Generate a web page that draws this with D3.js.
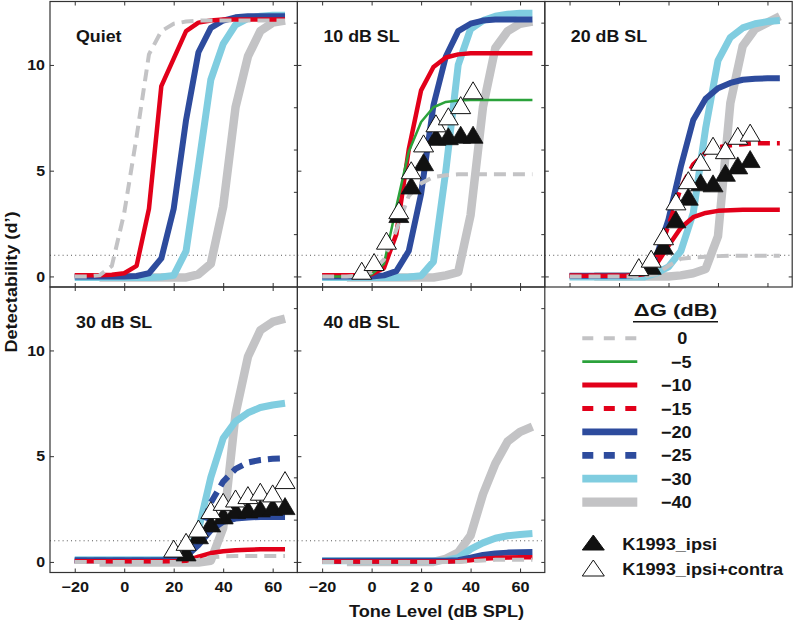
<!DOCTYPE html>
<html><head><meta charset="utf-8">
<script src="https://cdn.jsdelivr.net/npm/d3@7"></script>
<style>
body{margin:0;background:#fff}
svg{display:block}
text{font-family:"Liberation Sans",Arial,Helvetica,sans-serif;font-weight:bold;fill:#151515}
</style>
</head><body>
<svg id="c" width="794" height="624"></svg>
<script>
// ---------- data ----------
const levels   = [-20,-15,-10,-5,0,5,10,15,20,25,30,35,40,45,50,55,60,65];
const levels40 = [-10,-5,0,5,10,15,20,25,30,35,40,45,50,55,60,65];
const xTicks = [-20,0,20,40,60];
const xTickLabelsP4 = ["−20","0","20","40","60"];
const xTickLabelsP5 = ["−20","0","2 0","40","60"];
const yTicks = [0,5,10];
const yTickLabels = ["0","5","10"];
const yRightTicks = [0,2,4,6,8,10,12];
const panelTitles = ["Quiet","10 dB SL","20 dB SL","30 dB SL","40 dB SL"];
const gainKeys = ["0","-5","-10","-15","-20","-25","-30","-40"];
const gainLabels = ["0","−5","−10","−15","−20","−25","−30","−40"];
const markerLabels = ["K1993_ipsi","K1993_ipsi+contra"];
const dprimeCriterion = [1];

// Quiet
const quiet_0   = [0,0,0.05,0.5,3.0,6.6,10.5,11.6,11.95,12.05,12.1,12.1,12.1,12.1,12.1,12.1,12.1,12.1];
const quiet_m10 = [0.05,0.05,0.06,0.08,0.15,0.5,3.2,9.0,10.3,11.6,12.0,12.1,12.15,12.15,12.15,12.15,12.15,12.15];
const quiet_m20 = [0,0,0,0,0,0.02,0.15,0.85,3.2,7.4,10.6,11.75,12.1,12.25,12.3,12.3,12.3,12.3];
const quiet_m30 = [-0.05,-0.05,-0.05,-0.05,-0.05,-0.05,-0.05,-0.03,0.05,1.2,5.2,9.3,11.0,11.9,12.2,12.3,12.35,12.35];
const quiet_m40 = [-0.05,-0.05,-0.05,-0.05,-0.05,-0.05,-0.05,-0.05,0.1,0.6,3.3,8.0,10.4,11.6,12.0,12.1];

// 10 dB SL
const p10_0   = [0,0,0,0.05,0.2,0.8,2.2,3.8,4.4,4.7,4.78,4.83,4.83,4.83,4.83,4.83,4.83,4.83];
const p10_m5  = [0,0,0,0,0.1,0.6,3.3,5.9,7.3,8.0,8.25,8.32,8.34,8.34,8.34,8.34,8.34,8.34];
const p10_m10 = [0.05,0.05,0.05,0.05,0.1,0.4,2.0,6.0,8.8,9.9,10.35,10.5,10.55,10.55,10.55,10.55,10.55,10.55];
const p10_m20 = [0,0,0,0,0,0.05,0.25,1.2,3.9,8.1,10.4,11.6,11.95,12.1,12.15,12.15,12.15,12.15];
const p10_m30 = [-0.05,-0.05,-0.05,-0.05,-0.05,-0.05,-0.05,-0.03,0.03,0.7,5.0,10.0,11.7,12.1,12.3,12.4,12.45,12.45];
const p10_m40 = [-0.05,-0.05,-0.05,-0.05,-0.05,-0.05,-0.05,-0.05,0.05,0.2,2.9,8.0,10.8,11.6,11.95,12.05];
const p10_ipsi_x = [11,16,21,26,31,36,41];
const p10_ipsi_y = [2.95,4.3,5.4,6.6,6.63,6.7,6.7];
const p10_both_x = [-4,1,6,11,16,21,26,31,36,41];
const p10_both_y = [0.27,0.68,1.69,3.13,5.02,6.29,7.24,7.57,8.1,8.8];

// 20 dB SL
const p20_0   = [0,0,0,0,0,0,0,0.1,0.5,0.84,0.9,0.93,0.96,0.98,0.98,0.98,0.98,0.98];
const p20_m10 = [0.03,0.03,0.03,0.03,0.03,0.03,0.1,0.55,1.45,2.3,2.8,3.0,3.1,3.13,3.15,3.15,3.15,3.15];
const p20_m15 = [0.03,0.03,0.03,0.03,0.03,0.03,0.15,0.8,2.4,4.2,5.3,5.85,6.1,6.2,6.25,6.3,6.3,6.3];
const p20_m20 = [0.03,0.03,0.03,0.03,0.03,0.03,0.25,0.9,2.7,5.2,7.4,8.4,8.9,9.15,9.3,9.35,9.37,9.37];
const p20_m30 = [-0.03,-0.03,-0.03,-0.03,-0.03,-0.03,-0.03,0.15,0.45,1.2,3.0,7.0,10.2,11.3,11.75,11.95,12.05,12.1];
const p20_m40 = [0,0,0,0,0,0,0,0.05,0.15,0.35,1.9,8.2,10.9,11.7,12.0,12.3];
const p20_ipsi_x = [13,18,23,28,33,38,43,48,53];
const p20_ipsi_y = [0.5,1.45,2.7,3.77,4.45,4.4,4.9,5.25,5.55];
const p20_both_x = [8,13,18,23,28,33,38,43,48,53];
const p20_both_y = [0.44,0.84,1.9,3.55,4.55,5.42,6.18,5.97,6.65,6.8];

// 30 dB SL
const p30_0   = [0,0,0,0,0,0,0,0,0,0,0.1,0.22,0.26,0.28,0.28,0.28,0.28,0.28];
const p30_m10 = [0.03,0.03,0.03,0.03,0.03,0.03,0.03,0.03,0.03,0.05,0.25,0.42,0.5,0.55,0.58,0.6,0.6,0.6];
const p30_m20 = [0.08,0.08,0.08,0.08,0.08,0.08,0.08,0.08,0.1,0.25,0.8,1.5,1.9,2.05,2.1,2.13,2.13,2.13];
const p30_m25 = [0.05,0.05,0.05,0.05,0.05,0.05,0.05,0.05,0.1,0.35,1.1,2.8,3.8,4.4,4.7,4.82,4.88,4.9];
const p30_m30 = [0.1,0.1,0.1,0.1,0.1,0.1,0.1,0.1,0.12,0.3,1.5,4.0,5.85,6.65,7.05,7.3,7.42,7.5];
const p30_m40 = [-0.03,-0.03,-0.03,-0.03,-0.03,-0.03,-0.03,-0.03,-0.03,0.05,1.6,7.0,9.7,10.95,11.35,11.5];
const p30_ipsi_x = [25,30,35,40,45,50,55,60,65];
const p30_ipsi_y = [0.45,1.26,1.82,2.2,2.45,2.48,2.53,2.6,2.64];
const p30_both_x = [20,25,30,35,40,45,50,55,60,65];
const p30_both_y = [0.63,0.95,1.58,2.45,2.84,3.0,3.16,3.32,3.24,3.87];

// 40 dB SL
const p40_0   = [0,0,0,0,0,0,0,0,0,0,0,0,0.03,0.07,0.1,0.1,0.1,0.1];
const p40_m10 = [0.02,0.02,0.02,0.02,0.02,0.02,0.02,0.02,0.02,0.02,0.02,0.03,0.08,0.15,0.19,0.21,0.22,0.22];
const p40_m20 = [0.05,0.05,0.05,0.05,0.05,0.05,0.05,0.05,0.05,0.05,0.05,0.08,0.2,0.33,0.4,0.44,0.46,0.47];
const p40_m30 = [0.05,0.05,0.05,0.05,0.05,0.05,0.05,0.05,0.05,0.05,0.07,0.2,0.6,0.9,1.12,1.24,1.3,1.34];
const p40_m40 = [0,0,0,0,0,0,0,0,0.15,0.45,1.25,3.2,4.65,5.7,6.15,6.4];

// ---------- tables built from the arrays ----------
const panelCurves = [
  {"0":quiet_0,"-10":quiet_m10,"-20":quiet_m20,"-30":quiet_m30,"-40":quiet_m40},
  {"0":p10_0,"-5":p10_m5,"-10":p10_m10,"-20":p10_m20,"-30":p10_m30,"-40":p10_m40},
  {"0":p20_0,"-10":p20_m10,"-15":p20_m15,"-20":p20_m20,"-30":p20_m30,"-40":p20_m40},
  {"0":p30_0,"-10":p30_m10,"-20":p30_m20,"-25":p30_m25,"-30":p30_m30,"-40":p30_m40},
  {"0":p40_0,"-10":p40_m10,"-20":p40_m20,"-30":p40_m30,"-40":p40_m40}
];
const panelIpsi = [null,[p10_ipsi_x,p10_ipsi_y],[p20_ipsi_x,p20_ipsi_y],[p30_ipsi_x,p30_ipsi_y],null];
const panelBoth = [null,[p10_both_x,p10_both_y],[p20_both_x,p20_both_y],[p30_both_x,p30_both_y],null];

// ---------- styles ----------
const GRAY="#c3c3c5", RED="#e2001a", BLUE="#2d4b9d", CYAN="#80cde0", GREEN="#2ba23b";
const style = {
  "0":  {c:GRAY, w:4,   lw:4,   dash:"12,7", ldash:"11,10.5"},
  "-5": {c:GREEN,w:2.5, lw:2.7},
  "-10":{c:RED,  w:4.5, lw:5},
  "-15":{c:RED,  w:4.5, lw:5,   dash:"12,7", ldash:"11,10.5"},
  "-20":{c:BLUE, w:6,   lw:6.7},
  "-25":{c:BLUE, w:6,   lw:6.7, dash:"12,7", ldash:"11,10.5"},
  "-30":{c:CYAN, w:7,   lw:7.7},
  "-40":{c:GRAY, w:8.5, lw:9.3}
};
const drawOrder = ["-40","-30","-25","-20","-15","-10","-5","0"];

const svg = d3.select("#c");
const PW = 247.4;
const lefts = [50, 297.4, 544.8, 50, 297.4];
const rowRange = [[287, 1.5], [572.5, 287]];
const tri = (w,h) => `M0,${-h/2}L${w/2},${h/2}L${-w/2},${h/2}Z`;

function stretch(sel, f){
  sel.each(function(){
    const w = this.getComputedTextLength();
    if (w>0) d3.select(this).attr("textLength", w*f).attr("lengthAdjust","spacingAndGlyphs");
  });
}

panelTitles.forEach((title, i) => {
  const row = i < 3 ? 0 : 1, col = i % 3;
  const L = lefts[i];
  const x = d3.scaleLinear().domain([-30,70]).range([L, L+PW]);
  const y = d3.scaleLinear().domain([-0.5,13]).range(rowRange[row]);
  const g = svg.append("g");

  // criterion line d' = 1
  g.selectAll("line.crit").data(dprimeCriterion).join("line")
    .attr("x1", x(-30)).attr("x2", x(70)).attr("y1", d=>y(d)).attr("y2", d=>y(d))
    .attr("stroke","#444").attr("stroke-width",0.9).attr("stroke-dasharray","1,3.2");

  // curves
  const curves = panelCurves[i];
  drawOrder.forEach(k => {
    if (!curves[k]) return;
    const xs = k === "-40" ? levels40 : levels;
    const pts = curves[k].map((v,j) => [xs[j], v]);
    const s = style[k];
    g.append("path")
      .attr("d", d3.line().x(d=>x(d[0])).y(d=>y(d[1]))(pts))
      .attr("fill","none").attr("stroke", s.c).attr("stroke-width", s.w)
      .attr("stroke-linejoin","round")
      .attr("stroke-dasharray", s.dash || null);
  });

  // markers
  if (panelIpsi[i]) {
    const [xs, ys] = panelIpsi[i];
    g.selectAll("path.ipsi").data(xs.map((v,j)=>[v, ys[j]])).join("path")
      .attr("transform", d=>`translate(${x(d[0])},${y(d[1])})`)
      .attr("d", tri(20,17)).attr("fill","#111").attr("stroke","#111").attr("stroke-width",0.8);
  }
  if (panelBoth[i]) {
    const [xs, ys] = panelBoth[i];
    g.selectAll("path.both").data(xs.map((v,j)=>[v, ys[j]])).join("path")
      .attr("transform", d=>`translate(${x(d[0])},${y(d[1])})`)
      .attr("d", tri(20,17)).attr("fill","#fff").attr("stroke","#111").attr("stroke-width",1);
  }

  // frame
  g.append("rect").attr("x", L).attr("y", rowRange[row][1])
    .attr("width", PW).attr("height", rowRange[row][0]-rowRange[row][1])
    .attr("fill","none").attr("stroke","#333").attr("stroke-width",1.2);

  // axes (ticks inside)
  const tickStyle = a => { a.select(".domain").remove(); a.selectAll(".tick line").attr("stroke","#333").attr("stroke-width",1); };
  const xLabels = i === 3 ? xTickLabelsP4 : (i === 4 ? xTickLabelsP5 : null);
  const bottom = g.append("g").attr("transform", `translate(0,${rowRange[row][0]})`)
    .call(d3.axisBottom(x).tickValues(xTicks).tickSizeInner(-4).tickSizeOuter(0).tickPadding(9)
      .tickFormat((d,j)=> xLabels ? xLabels[j] : ""));
  tickStyle(bottom);
  bottom.selectAll("text").attr("font-size",14.5).attr("fill","#151515");
  const top = g.append("g").attr("transform", `translate(0,${rowRange[row][1]})`)
    .call(d3.axisTop(x).tickValues(xTicks).tickSizeInner(-4).tickSizeOuter(0).tickFormat(""));
  tickStyle(top);
  const left = g.append("g").attr("transform", `translate(${L},0)`)
    .call(d3.axisLeft(y).tickValues(yTicks).tickSizeInner(-4).tickSizeOuter(0).tickPadding(5)
      .tickFormat((d,j)=> col === 0 ? yTickLabels[j] : ""));
  tickStyle(left);
  left.selectAll("text").attr("font-size",14.5).attr("fill","#151515");
  const right = g.append("g").attr("transform", `translate(${L+PW},0)`)
    .call(d3.axisRight(y).tickValues(yRightTicks).tickSizeInner(-3.5).tickSizeOuter(0).tickFormat(""));
  tickStyle(right);
  stretch(bottom.selectAll("text"), 1.12);
  stretch(left.selectAll("text"), 1.1);

  // title
  const t = g.append("text").attr("x", L + 26).attr("y", row === 0 ? 42 : 328)
    .attr("font-size", 16.5).text(title);
  stretch(t, 1.08);
});

// axis labels
const yl = svg.append("text").attr("transform","translate(16.5,282) rotate(-90)")
  .attr("text-anchor","middle").attr("font-size",16.5).text("Detectability (d’)");
stretch(yl, 1.1);
const xl = svg.append("text").attr("x",436.5).attr("y",617)
  .attr("text-anchor","middle").attr("font-size",16.5).text("Tone Level (dB SPL)");
stretch(xl, 1.1);

// legend
const lg = svg.append("g");
const lt = lg.append("text").attr("x",675.5).attr("y",316).attr("text-anchor","middle")
  .attr("font-size",17).text("ΔG (dB)");
stretch(lt, 1.3);
lg.append("line").attr("x1",633).attr("x2",718).attr("y1",321.7).attr("y2",321.7)
  .attr("stroke","#151515").attr("stroke-width",1.6);
const rowY = j => 338.3 + j*23.4;
gainKeys.forEach((k,j) => {
  const s = style[k];
  lg.append("line").attr("x1",582.3).attr("x2",637.3).attr("y1",rowY(j)).attr("y2",rowY(j))
    .attr("stroke",s.c).attr("stroke-width",s.lw).attr("stroke-dasharray", s.ldash || null);
  const tx = lg.append("text").attr("x", k === "0" ? 687.3 : 691.7).attr("y", rowY(j)+6)
    .attr("text-anchor","end").attr("font-size",16.5).text(gainLabels[j]);
  stretch(tx, 1.1);
});
lg.append("path").attr("transform","translate(593.3,542.5)").attr("d",tri(22,15)).attr("fill","#111").attr("stroke","#111");
lg.append("path").attr("transform","translate(593.3,568)").attr("d",tri(22,16)).attr("fill","#fff").attr("stroke","#111").attr("stroke-width",1);
markerLabels.forEach((m,j) => {
  const tx = lg.append("text").attr("x",622.3).attr("y", j===0 ? 550 : 575).attr("font-size",16.5).text(m);
  stretch(tx, 1.1);
});
</script>
</body></html>
